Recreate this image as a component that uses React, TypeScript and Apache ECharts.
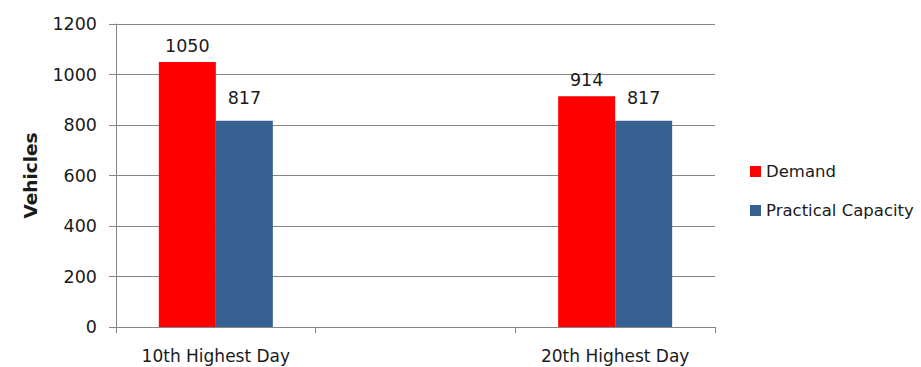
import React, { useEffect, useRef } from "react";
import * as echarts from "echarts";

const categories = ["10th Highest Day", "", "20th Highest Day"];
const demand = [1050, null, 914];
const practicalCapacity = [817, null, 817];
const yTicks = { min: 0, max: 1200, interval: 200 };

const FONT = "'DejaVu Sans', sans-serif";
const TEXT = "#1a1a1a";
const GRID = "#868686";

export default function App() {
  const ref = useRef<HTMLDivElement>(null);
  useEffect(() => {
    if (!ref.current) return;
    const chart = echarts.init(ref.current, undefined, { renderer: "svg" });
    chart.setOption({
      animation: false,
      textStyle: { fontFamily: FONT },
      grid: { left: 116, right: 206, top: 24, bottom: 40 },
      legend: {
        orient: "vertical",
        left: 745,
        top: 158,
        itemWidth: 11,
        itemHeight: 11,
        itemGap: 22,
        icon: "rect",
        textStyle: { fontFamily: FONT, fontSize: 16.5, color: TEXT },
        data: ["Demand", "Practical Capacity"],
      },
      xAxis: {
        type: "category",
        data: categories,
        axisLine: { lineStyle: { color: GRID } },
        axisTick: { show: true, length: 6, alignWithLabel: false, lineStyle: { color: GRID } },
        axisLabel: { color: TEXT, fontSize: 17, margin: 20, fontFamily: FONT },
      },
      yAxis: {
        type: "value",
        min: yTicks.min,
        max: yTicks.max,
        interval: yTicks.interval,
        name: "Vehicles",
        nameLocation: "middle",
        nameGap: 76,
        nameTextStyle: { fontFamily: FONT, fontSize: 18.5, fontWeight: "bold", color: TEXT },
        axisLine: { show: true, lineStyle: { color: GRID } },
        axisTick: { show: true, length: 7, lineStyle: { color: GRID } },
        axisLabel: { color: TEXT, fontSize: 17.5, margin: 19, fontFamily: FONT, formatter: (v: number) => String(v) },
        splitLine: { lineStyle: { color: GRID } },
      },
      series: [
        {
          name: "Demand",
          type: "bar",
          data: demand,
          barWidth: 57,
          barGap: "0%",
          itemStyle: { color: "#FF0000" },
          label: { show: true, position: "top", distance: 7, color: TEXT, fontSize: 17.5, fontFamily: FONT },
        },
        {
          name: "Practical Capacity",
          type: "bar",
          data: practicalCapacity,
          barWidth: 57,
          barGap: "0%",
          itemStyle: { color: "#376092" },
          label: { show: true, position: "top", distance: 14, color: TEXT, fontSize: 17.5, fontFamily: FONT },
        },
      ],
    });
    return () => chart.dispose();
  }, []);
  return <div ref={ref} style={{ width: 921, height: 367, position: "absolute", left: 0, top: 0 }} />;
}
